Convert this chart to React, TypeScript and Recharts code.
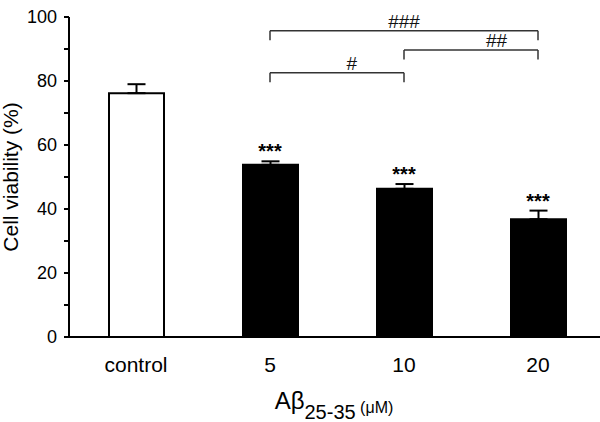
import { BarChart, Bar, Cell, XAxis, YAxis, ErrorBar, ReferenceLine, ReferenceDot } from 'recharts';

const groups = ['control', '5', '10', '20'];
const viability = [76.2, 53.8, 46.3, 36.8];
const sem = [2.8, 1.1, 1.5, 2.7];
const stars = ['', '***', '***', '***'];

const yTicks = [0, 10, 20, 30, 40, 50, 60, 70, 80, 90, 100];

// comparison brackets between Aβ groups
const bracketFrom = ['5', '10', '5'];
const bracketTo = ['10', '20', '20'];
const bracketLevel = [82.6, 89.7, 95.7];
const bracketText = ['#', '##', '###'];
const bracketTextFrac = [0.61, 0.69, 0.5];

const FONT = '"Liberation Sans", Arial, sans-serif';
const DROP = 3;

const data = groups.map((g, i) => ({ group: g, mean: viability[i], err: [0, sem[i]] }));

const YTick = (props: any) => {
  const { x, y, payload } = props;
  if (payload.value % 20 !== 0) return <g />;
  return (
    <text x={x} y={y} dy="0.35em" textAnchor="end" fontSize={18} fill="#000" fontFamily={FONT}>
      {payload.value}
    </text>
  );
};

const YTitle = (props: any) => {
  const vb = props.viewBox;
  const cy = vb.y + vb.height / 2;
  return (
    <text transform={`translate(18,${cy}) rotate(-90)`} textAnchor="middle" fontSize={21} fill="#000" fontFamily={FONT}>
      Cell viability (%)
    </text>
  );
};

const XTitle = (props: any) => {
  const vb = props.viewBox;
  const cx = vb.x + vb.width / 2 - 3;
  return (
    <text x={cx} y={409} textAnchor="middle" fill="#000" fontFamily={FONT}>
      <tspan fontSize={24}>Aβ</tspan>
      <tspan fontSize={20} dy={10}>25-35</tspan>
      <tspan fontSize={16} dy={-6}> (μM)</tspan>
    </text>
  );
};

const bracketLabel = (text: string, frac: number) => (props: any) => {
  const vb = props.viewBox;
  return (
    <text x={vb.x + vb.width * frac} y={vb.y - 3} textAnchor="middle" fontSize={19} fill="#111" fontFamily={FONT}>
      {text}
    </text>
  );
};

export default function App() {
  return (
    <div style={{ position: 'absolute', left: 0, top: 0, width: 600, height: 422, overflow: 'hidden', background: '#fff', fontFamily: FONT }}>
      <BarChart width={605} height={422} data={data} margin={{ top: 17, right: 0, bottom: 0, left: 0 }}>
        <XAxis
          dataKey="group"
          height={85}
          tickLine={false}
          tickSize={0}
          tickMargin={20}
          axisLine={{ stroke: '#000', strokeWidth: 2 }}
          tick={{ fontSize: 21, fill: '#000', fontFamily: FONT }}
          label={<XTitle />}
        />
        <YAxis
          width={69}
          domain={[0, 100]}
          ticks={yTicks}
          interval={0}
          tickSize={5}
          tickMargin={7}
          axisLine={{ stroke: '#000', strokeWidth: 2 }}
          tickLine={{ stroke: '#000', strokeWidth: 2 }}
          tick={<YTick />}
          label={<YTitle />}
        />
        <Bar dataKey="mean" barSize={55} stroke="#000" strokeWidth={2} isAnimationActive={false}>
          {data.map((d, i) => (
            <Cell key={d.group} fill={i === 0 ? '#fff' : '#000'} />
          ))}
          <ErrorBar dataKey="err" direction="y" width={9} stroke="#000" strokeWidth={2} />
        </Bar>
        {groups.map((g, i) =>
          stars[i] ? (
            <ReferenceDot
              key={'s' + g}
              x={g}
              y={viability[i] + sem[i]}
              r={0}
              ifOverflow="visible"
              shape={(p: any) => (
                <text x={p.cx} y={p.cy - 3} textAnchor="middle" fontSize={20} fontWeight="bold" fill="#000" fontFamily={FONT}>
                  {stars[i]}
                </text>
              )}
            />
          ) : null
        )}
        {bracketText.map((t, i) => [
          <ReferenceLine
            key={'h' + i}
            segment={[{ x: bracketFrom[i], y: bracketLevel[i] }, { x: bracketTo[i], y: bracketLevel[i] }]}
            stroke="#333"
            strokeWidth={1.5}
            ifOverflow="visible"
            label={bracketLabel(t, bracketTextFrac[i])}
          />,
          <ReferenceLine
            key={'l' + i}
            segment={[{ x: bracketFrom[i], y: bracketLevel[i] }, { x: bracketFrom[i], y: bracketLevel[i] - DROP }]}
            stroke="#333"
            strokeWidth={1.5}
            ifOverflow="visible"
          />,
          <ReferenceLine
            key={'r' + i}
            segment={[{ x: bracketTo[i], y: bracketLevel[i] }, { x: bracketTo[i], y: bracketLevel[i] - DROP }]}
            stroke="#333"
            strokeWidth={1.5}
            ifOverflow="visible"
          />,
        ])}
      </BarChart>
    </div>
  );
}
